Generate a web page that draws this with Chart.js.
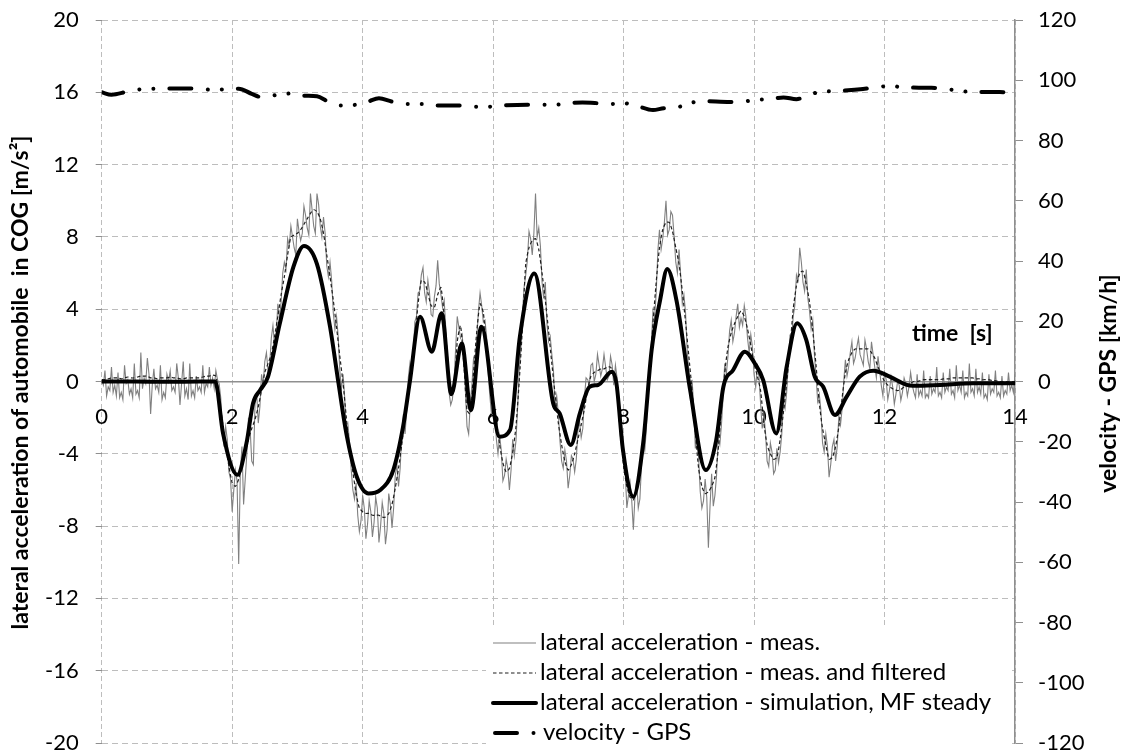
<!DOCTYPE html>
<html><head><meta charset="utf-8">
<script src="https://cdn.jsdelivr.net/npm/chart.js@4/dist/chart.umd.min.js"></script>
<style>html,body{margin:0;padding:0;background:#fff}canvas{display:block}</style>
</head><body>
<canvas id="c" width="1126" height="754"></canvas>
<script>
// ---------- DATA ----------
const MEAS_STEP = 0.025;   // s, sampling of the raw measurement
const FILT_STEP = 0.05;    // s, sampling of the filtered measurement

const measValues = [
0.1,-0.2,0.6,-0.8,-0.3,-0.5,0.8,-0.6,-0.2,-0.8,
0.5,-0.9,-0.6,-1.0,0.9,-0.1,0.1,-0.7,-0.4,-0.9,
1.0,-0.7,-0.5,-0.9,1.6,-0.4,0.2,-0.1,1.3,0.4,
-1.8,-0.2,0.7,-0.4,-0.2,-0.6,0.9,-1.0,-0.6,-0.9,
0.4,0.0,0.6,-0.5,-0.3,-0.6,1.0,0.2,-1.3,-0.1,
1.1,-0.8,-0.4,-1.0,1.0,-0.8,-0.5,-0.9,0.3,-0.5,
-0.3,-0.6,0.9,-0.6,-0.1,-0.3,0.8,-0.2,0.2,-0.4,
0.6,0.1,-0.1,-0.9,-2.8,-3.6,-2.5,-3.2,-5.0,-5.4,
-7.2,-6.0,-4.9,-5.5,-10.1,-5.0,-3.6,-6.8,-5.4,-4.0,
-2.0,-2.6,-4.4,-4.6,-1.3,-0.6,-2.3,-1.4,0.4,-0.2,
1.1,1.6,0.6,0.9,2.4,3.1,2.0,2.6,4.3,3.5,
4.4,6.0,6.6,6.2,7.9,7.5,8.6,8.0,7.4,7.0,
9.0,8.3,7.8,8.2,9.7,9.2,8.5,8.1,10.4,9.5,
8.6,8.2,10.4,9.8,8.6,8.0,9.1,8.2,6.4,5.8,
6.6,5.6,3.8,2.9,3.6,2.5,0.6,-0.4,0.4,-0.9,
-2.9,-2.4,-3.4,-4.9,-6.0,-6.5,-5.6,-7.4,-8.3,-7.7,
-6.3,-7.0,-8.7,-7.9,-6.6,-7.2,-8.6,-7.8,-6.4,-7.0,
-8.9,-8.0,-6.7,-7.3,-9.0,-8.2,-6.2,-6.8,-8.1,-7.0,
-5.2,-4.6,-5.8,-4.8,-2.9,-1.8,-2.9,-1.6,0.2,1.0,
0.4,1.4,3.3,3.6,4.9,5.0,5.9,6.3,4.9,4.4,
5.6,4.9,3.7,3.6,4.7,5.3,6.7,5.4,4.8,4.1,
4.5,2.9,0.8,-0.6,-1.3,-1.0,-0.1,1.8,3.6,3.0,
2.4,2.6,1.5,-0.5,-2.5,-2.9,-1.2,-0.2,1.3,1.0,
2.4,3.9,4.9,4.2,3.3,3.4,2.5,0.4,-0.8,-1.8,
-0.9,-1.6,-3.2,-4.0,-3.0,-3.8,-5.5,-5.2,-4.3,-4.8,
-6.0,-4.9,-3.2,-4.1,-3.3,-1.5,0.6,1.8,3.8,5.2,
5.9,6.7,8.3,7.9,7.0,8.2,10.4,8.0,8.5,7.5,
5.5,4.6,5.5,3.2,2.2,2.5,1.5,0.6,-1.5,-0.8,
-1.8,-3.3,-4.4,-4.8,-3.8,-4.4,-5.9,-5.2,-4.1,-4.3,
-5.0,-4.3,-2.7,-2.2,-3.1,-2.6,-0.9,0.2,0.1,-0.2,
0.9,1.0,0.0,0.4,1.5,0.9,0.3,0.7,1.5,0.8,
0.1,0.3,1.4,0.9,-0.2,0.9,0.2,-1.6,-3.0,-3.8,
-4.0,-5.0,-7.0,-6.3,-5.6,-6.6,-8.2,-6.3,-5.5,-7.0,
-6.5,-4.6,-3.2,-3.8,-2.6,-0.5,1.1,2.0,3.9,3.5,
4.9,7.2,8.4,7.3,7.9,8.8,10.0,8.1,8.4,9.4,
9.2,8.0,6.6,6.0,7.3,5.9,4.3,4.8,3.8,1.7,
0.6,-1.0,0.1,-1.4,-3.7,-3.1,-4.2,-6.1,-7.0,-6.6,
-5.4,-6.4,-9.2,-6.9,-5.1,-6.9,-6.3,-5.2,-3.2,-3.5,
-2.4,-0.9,1.0,0.4,1.4,2.8,3.4,2.2,2.7,3.6,
4.3,3.0,3.5,3.1,4.2,3.6,2.4,1.6,2.6,1.9,
0.4,-0.3,0.8,0.3,-1.2,-2.6,-1.8,-2.8,-4.4,-4.7,
-3.4,-3.9,-5.1,-4.9,-3.7,-4.5,-3.9,-2.9,-1.1,-1.5,
-0.6,1.0,2.5,2.3,3.6,4.2,5.9,5.6,7.4,6.6,
5.5,5.0,6.2,4.6,3.9,2.9,3.4,1.5,0.3,-1.1,
-0.7,-1.6,-3.4,-3.9,-2.9,-3.6,-5.3,-4.6,-3.6,-3.2,
-4.4,-3.6,-1.9,-2.4,-1.5,0.0,1.2,0.3,0.8,1.6,
2.2,1.0,1.3,1.9,2.4,1.5,1.2,0.9,2.3,1.8,
1.1,0.7,2.2,1.5,0.8,0.2,1.4,0.6,-0.2,-0.8,
0.5,0.1,-1.0,-0.5,0.25,-0.3,-1.25,-0.7,0.0,-0.2,
-1.05,-0.6,0.2,-0.1,-0.8,-0.3,0.5,-0.2,-0.6,-0.9,
0.4,-0.8,-0.5,-0.8,0.6,-0.9,-0.7,-0.9,0.3,-0.7,
-0.4,-0.6,0.8,-0.8,-0.6,-0.9,0.5,-0.6,-0.3,-0.5,
0.7,-0.7,-0.5,-0.9,0.9,-0.5,-0.2,-0.6,0.6,-0.9,
-0.6,-0.8,1.0,-0.6,-0.4,-0.8,0.7,-0.6,-0.3,-0.7,
0.5,-0.9,-0.7,-1.0,0.4,-0.7,-0.4,-0.6,0.6,-0.8,
-0.6,-0.9,0.3,-0.8,-0.5,-0.7,0.5,-0.5,-0.2,-0.6,
0.4
];

const filteredValues = [
0.1,0.1,0.15,0.2,0.2,0.2,0.15,0.2,0.25,0.2,
0.2,0.25,0.3,0.3,0.3,0.2,0.2,0.15,0.2,0.2,
0.2,0.25,0.2,0.2,0.15,0.15,0.2,0.2,0.2,0.2,
0.2,0.25,0.3,0.3,0.35,0.3,
-0.8,-2.2,-3.5,-4.7,-5.6,-5.8,-5.4,-4.6,-3.9,-3.2,
-2.6,-2.1,-1.4,-0.5,0.5,1.0,1.5,2.5,3.6,4.8,
5.8,7.0,8.0,8.1,8.2,8.4,8.7,9.0,9.3,9.5,
9.4,9.0,8.2,7.0,5.8,4.5,3.0,1.4,-0.1,-2.0,
-3.8,-5.0,-6.2,-7.0,-7.2,-7.3,-7.3,-7.4,-7.4,-7.4,
-7.5,-7.5,-7.3,-6.8,-5.9,-4.8,-3.5,-2.0,-0.6,0.9,
2.4,4.3,5.6,5.5,4.9,4.2,4.1,4.8,5.2,3.6,
1.4,-0.8,-0.5,2.2,3.1,1.0,-1.6,-1.8,0.5,2.8,
4.3,3.8,1.8,-0.2,-1.3,-2.2,-3.5,-4.5,-5.0,-4.8,
-3.9,-2.5,0.0,3.0,6.5,7.4,7.8,7.9,7.3,6.0,
4.5,2.8,1.0,-0.7,-2.3,-3.5,-4.4,-4.9,-4.6,-4.0,
-3.2,-2.4,-1.5,-0.4,0.3,0.5,0.6,0.7,0.7,0.8,
0.8,0.4,-0.3,-2.5,-4.7,-5.8,-6.4,-6.55,-6.0,-5.0,
-3.8,-1.8,0.5,3.2,5.5,7.4,8.4,8.8,8.8,8.3,
7.4,6.5,5.0,3.3,1.4,-0.5,-2.8,-4.8,-5.8,-6.2,
-6.1,-5.8,-5.3,-3.8,-1.5,0.5,1.9,2.7,3.2,3.6,
3.9,3.6,2.9,2.0,1.0,0.3,-0.5,-2.3,-3.5,-4.0,
-4.3,-4.2,-3.2,-1.7,-0.1,1.8,4.0,5.3,6.0,6.1,
5.4,4.4,2.8,0.9,-1.2,-2.6,-3.5,-4.3,-4.2,-3.6,
-2.5,-0.9,0.5,1.2,1.6,1.8,1.8,1.8,1.8,1.8,
1.6,1.3,0.8,0.4,0.0,-0.2,-0.35,-0.45,-0.5,-0.45,
-0.3,-0.2,-0.1,
0.0,0.0,0.05,0.1,0.1,0.1,0.1,0.1,0.1,0.15,
0.15,0.15,0.2,0.2,0.2,0.2,0.2,0.2,0.2,0.15,
0.15,0.1,0.1,0.1,0.05,0.05,0.0,0.0,0.0,0.0,
0.0,0.0
];

const simTimes = [0,0.5,1.0,1.5,1.74,1.86,2.08,2.22,2.32,2.43,2.55,2.73,2.94,3.1,3.3,3.5,3.63,3.75,3.91,4.09,4.27,4.47,4.62,4.72,4.88,5.06,5.21,5.36,5.52,5.66,5.82,6.1,6.26,6.41,6.63,6.92,7.02,7.19,7.33,7.48,7.61,7.82,7.89,7.99,8.15,8.3,8.43,8.56,8.67,8.81,9.02,9.26,9.42,9.53,9.68,9.86,10.01,10.14,10.34,10.5,10.66,10.8,10.93,11.06,11.24,11.42,11.62,11.83,12.08,12.34,12.44,12.85,13.36,14.0];
const simValues = [0,0,-0.02,0,0,-2.87,-5.16,-3.4,-1.2,-0.47,0.27,3.2,6.35,7.5,6.5,3.03,-0.1,-2.87,-5.27,-6.19,-6.0,-4.9,-2.5,-0.1,3.58,1.65,3.77,-0.7,2.1,-1.58,3.03,-3.05,-2.68,2.48,5.98,-1.2,-1.76,-3.51,-1.76,-0.29,-0.19,0.54,-0.1,-3.78,-6.37,-3.42,1.74,4.5,6.22,4.5,-0.47,-4.9,-3.24,-0.29,0.64,1.65,1.01,0.08,-2.87,0.82,3.22,2.3,0.27,-0.29,-1.85,-0.84,0.27,0.6,0.27,-0.19,-0.24,-0.19,-0.1,-0.1];

const gpsTimes = [0,0.15,0.4,0.6,0.85,1.05,1.45,1.65,1.9,2.1,2.3,2.45,2.65,2.9,3.1,3.3,3.47,3.65,3.87,4.08,4.25,4.45,4.66,4.9,5.1,5.5,5.7,5.92,6.12,6.53,6.75,6.97,7.15,7.37,7.59,7.78,8.0,8.2,8.45,8.62,8.8,9.0,9.2,9.63,9.82,10.04,10.24,10.45,10.65,10.85,11.06,11.26,11.67,11.87,12.1,12.3,12.72,12.93,13.14,13.34,13.77,14.0];
const gpsValues = [96.0,95.2,96.3,97.0,97.2,97.3,97.3,96.9,97.0,97.2,95.5,94.4,95.0,95.6,94.9,94.7,92.9,91.6,91.8,92.9,94.0,92.9,92.1,92.1,91.6,91.6,91.2,91.2,91.6,91.9,91.9,91.9,92.4,92.6,92.4,92.1,92.4,91.5,90.1,90.7,90.9,92.3,93.1,92.8,92.9,93.5,93.7,94.3,93.7,95.3,96.2,96.4,97.1,97.7,98.1,97.6,97.5,97.1,96.6,96.1,96.1,95.4];

const seriesNames = [
  'lateral acceleration - meas.',
  'lateral acceleration - meas. and filtered',
  'lateral acceleration - simulation, MF steady',
  'velocity - GPS'
];
const leftAxisTitle = 'lateral acceleration of automobile  in COG [m/s\u00B2]';
const rightAxisTitle = 'velocity - GPS [km/h]';
const timeAxisTitle = 'time  [s]';

// ---------- BUILD ----------
const gridTimes = (n, step) => Array.from({ length: n }, (_, i) => Math.round(i * step * 1000) / 1000);
const measTimes = gridTimes(measValues.length, MEAS_STEP);
const filtTimes = gridTimes(filteredValues.length, FILT_STEP);
const pairs = (xs, ys) => xs.map((x, i) => ({ x: x, y: ys[i] }));

const FONT = 'Lato';
const GRID_COLOR = '#bdbdbd';
const AXIS_COLOR = '#8f8f8f';
const GPS_DASH = [22, 16.5, 0.01, 14, 0.01, 16];

const datasets = [
  { label: seriesNames[0], data: pairs(measTimes, measValues), yAxisID: 'y',
    borderColor: '#808080', borderWidth: 1.1, pointRadius: 0, tension: 0, order: 3 },
  { label: seriesNames[1], data: pairs(filtTimes, filteredValues), yAxisID: 'y',
    borderColor: '#1f1f1f', borderWidth: 1.2, borderDash: [3.5, 2.5], pointRadius: 0, tension: 0.2, order: 2 },
  { label: seriesNames[2], data: pairs(simTimes, simValues), yAxisID: 'y',
    borderColor: '#000', borderWidth: 4, pointRadius: 0, cubicInterpolationMode: 'monotone',
    borderCapStyle: 'round', borderJoinStyle: 'round', order: 1 },
  { label: seriesNames[3], data: pairs(gpsTimes, gpsValues), yAxisID: 'y2',
    borderColor: '#000', borderWidth: 4, borderDash: GPS_DASH, borderCapStyle: 'round',
    pointRadius: 0, cubicInterpolationMode: 'monotone', order: 0 }
];

const overlay = {
  id: 'overlay',
  afterDraw(chart) {
    const ctx = chart.ctx, ca = chart.chartArea;
    const cy = (ca.top + ca.bottom) / 2;
    ctx.save();
    ctx.fillStyle = '#000';
    ctx.font = 'bold 23px ' + FONT;
    ctx.textAlign = 'center';
    ctx.textBaseline = 'middle';
    ctx.save(); ctx.translate(21, cy + 1); ctx.rotate(-Math.PI / 2); ctx.fillText(leftAxisTitle, 0, 0); ctx.restore();
    ctx.save(); ctx.translate(1109, cy + 2); ctx.rotate(-Math.PI / 2); ctx.fillText(rightAxisTitle, 0, 0); ctx.restore();
    ctx.textAlign = 'left';
    ctx.textBaseline = 'alphabetic';
    ctx.fillText(timeAxisTitle, 912, 341);

    // legend
    ctx.fillStyle = '#fff';
    ctx.fillRect(486, 628, 522, 126);
    const ds = chart.data.datasets;
    ctx.font = '24px ' + FONT;
    for (let k = 0; k < 4; k++) {
      const d = ds[k];
      const base = 650 + k * 30;
      const ly = base - 7;
      ctx.save();
      ctx.strokeStyle = d.borderColor;
      ctx.lineWidth = d.borderWidth;
      ctx.lineCap = d.borderCapStyle || 'butt';
      ctx.setLineDash(d.borderDash || []);
      ctx.beginPath();
      if (k === 3) { ctx.moveTo(495, ly); ctx.lineTo(537, ly); }
      else { ctx.moveTo(493, ly); ctx.lineTo(536, ly); }
      ctx.stroke();
      ctx.restore();
      ctx.fillStyle = '#000';
      ctx.fillText(d.label, k === 3 ? 543 : 540, base);
    }
    ctx.restore();
  }
};

const noPad = (s) => { s.paddingTop = 0; s.paddingBottom = 0; s.paddingLeft = 0; s.paddingRight = 0; };

new Chart(document.getElementById('c'), {
  type: 'line',
  data: { datasets: datasets },
  options: {
    responsive: false,
    animation: false,
    devicePixelRatio: 1,
    layout: { padding: { top: 20, bottom: 11, left: 0, right: 0 } },
    plugins: { legend: { display: false }, tooltip: { enabled: false } },
    scales: {
      x: {
        type: 'linear', min: 0, max: 14,
        position: { y: 0 },
        ticks: { stepSize: 2, color: '#000', font: { family: FONT, size: 22 }, padding: 22, maxRotation: 0, autoSkip: false },
        grid: { color: GRID_COLOR, lineWidth: 1, drawTicks: false },
        border: { display: true, color: AXIS_COLOR, width: 1.5, dash: [5, 3] },
        afterFit: (s) => { s.height = 0; noPad(s); }
      },
      y: {
        type: 'linear', position: 'left', min: -20, max: 20,
        ticks: { stepSize: 4, color: '#000', font: { family: FONT, size: 22 }, padding: 17 },
        grid: { color: GRID_COLOR, lineWidth: 1, drawTicks: true, tickLength: 6, tickColor: AXIS_COLOR, tickBorderDash: [] },
        border: { display: false, dash: [6, 4] },
        afterFit: (s) => { s.width = 101.7; noPad(s); }
      },
      y2: {
        type: 'linear', position: 'right', min: -120, max: 120,
        ticks: { stepSize: 20, color: '#000', font: { family: FONT, size: 22 }, padding: 15 },
        grid: { drawOnChartArea: false, drawTicks: true, tickLength: 8, tickColor: AXIS_COLOR, tickBorderDash: [] },
        border: { display: true, color: AXIS_COLOR, width: 1.5 },
        afterFit: (s) => { s.width = 111; noPad(s); }
      }
    }
  },
  plugins: [overlay]
});
</script>
</body></html>
